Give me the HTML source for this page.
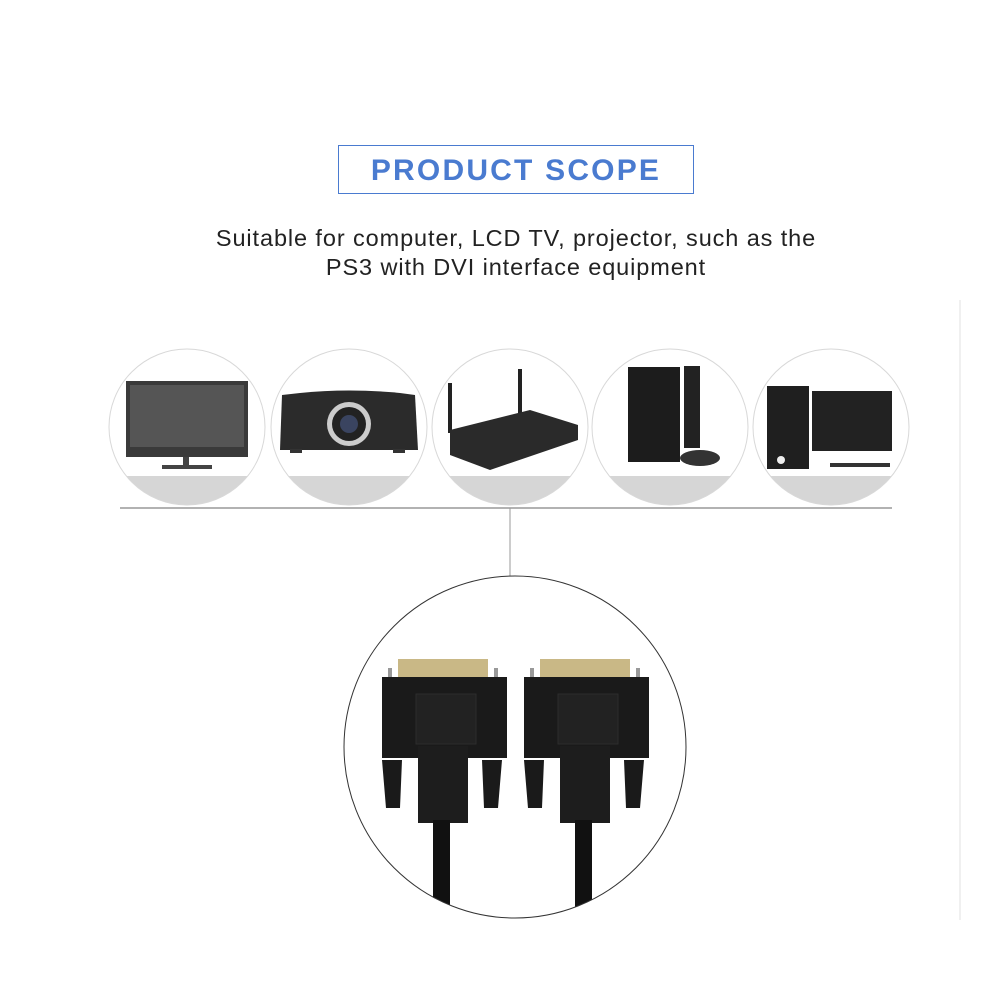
<!DOCTYPE html>
<html><head><style>
html,body{margin:0;padding:0;background:#fff;width:1000px;height:1000px;overflow:hidden}
.t{position:absolute;left:338px;top:145px;width:354px;height:47px;border:1.5px solid #4a7bd0}
.tt{position:absolute;left:338px;top:154px;width:356px;text-align:center;font:bold 30px/34px "Liberation Sans",sans-serif;color:#4a7bd0;letter-spacing:2.2px}
.d{position:absolute;left:16px;width:1000px;top:224px;text-align:center;font:23.5px/29px "Liberation Sans",sans-serif;color:#222;letter-spacing:0.9px}
</style></head><body>
<div class="t"></div>
<div class="tt">PRODUCT SCOPE</div>
<div class="d">Suitable for computer, LCD TV, projector, such as the<br>PS3 with DVI interface equipment</div>
<svg width="1000" height="1000" style="position:absolute;left:0;top:0">
<defs>
<clipPath id="c1"><circle cx="187" cy="427" r="78"/></clipPath>
<clipPath id="c2"><circle cx="349" cy="427" r="78"/></clipPath>
<clipPath id="c3"><circle cx="510" cy="427" r="78"/></clipPath>
<clipPath id="c4"><circle cx="670" cy="427" r="78"/></clipPath>
<clipPath id="c5"><circle cx="831" cy="427" r="78"/></clipPath>
<clipPath id="big"><circle cx="515" cy="747" r="171"/></clipPath>
</defs>
<line x1="960" y1="300" x2="960" y2="920" stroke="#f0f0f0" stroke-width="2"/>
<g>
<g clip-path="url(#c1)"><rect x="100" y="476" width="180" height="40" fill="#d6d6d6"/></g>
<g clip-path="url(#c2)"><rect x="260" y="476" width="180" height="40" fill="#d6d6d6"/></g>
<g clip-path="url(#c3)"><rect x="420" y="476" width="180" height="40" fill="#d6d6d6"/></g>
<g clip-path="url(#c4)"><rect x="580" y="476" width="180" height="40" fill="#d6d6d6"/></g>
<g clip-path="url(#c5)"><rect x="740" y="476" width="180" height="40" fill="#d6d6d6"/></g>
<g fill="none" stroke="#d8d8d8" stroke-width="1">
<circle cx="187" cy="427" r="78"/><circle cx="349" cy="427" r="78"/><circle cx="510" cy="427" r="78"/><circle cx="670" cy="427" r="78"/><circle cx="831" cy="427" r="78"/>
</g>
</g>
<rect x="126" y="381" width="122" height="76" fill="#3a3a3a"/>
<rect x="130" y="385" width="114" height="62" fill="#555"/>
<rect x="183" y="457" width="6" height="8" fill="#444"/>
<rect x="162" y="465" width="50" height="4" fill="#444"/>
<path d="M282 395 L300 393 Q349 388 400 393 L415 395 L418 450 L280 450 Z" fill="#2b2b2b"/>
<circle cx="349" cy="424" r="22" fill="#ccc"/><circle cx="349" cy="424" r="17" fill="#222"/><circle cx="349" cy="424" r="9" fill="#3a4460"/>
<rect x="290" y="449" width="12" height="4" fill="#333"/><rect x="393" y="449" width="12" height="4" fill="#333"/>
<rect x="448" y="383" width="4" height="50" fill="#222"/><rect x="518" y="369" width="4" height="55" fill="#222"/>
<path d="M450 430 L530 410 L578 425 L578 440 L490 470 L450 455 Z" fill="#2a2a2a"/>
<rect x="628" y="367" width="52" height="95" fill="#1c1c1c"/>
<rect x="684" y="366" width="16" height="82" fill="#222"/>
<ellipse cx="700" cy="458" rx="20" ry="8" fill="#333"/>
<rect x="767" y="386" width="42" height="83" fill="#1f1f1f"/>
<circle cx="781" cy="460" r="4" fill="#eee"/>
<rect x="812" y="391" width="80" height="60" fill="#222"/>
<rect x="830" y="463" width="60" height="4" fill="#333"/>
<line x1="120" y1="508" x2="892" y2="508" stroke="#999" stroke-width="1.5"/>
<line x1="510" y1="508" x2="510" y2="576" stroke="#999" stroke-width="1"/>
<circle cx="515" cy="747" r="171" fill="#fff"/>
<g clip-path="url(#big)">
<g id="con">
<rect x="398" y="659" width="90" height="19" fill="#c9b886"/>
<rect x="388" y="668" width="4" height="10" fill="#999"/><rect x="494" y="668" width="4" height="10" fill="#999"/>
<rect x="382" y="677" width="125" height="81" fill="#1a1a1a"/>
<rect x="416" y="694" width="60" height="50" fill="#222" stroke="#2c2c2c"/>
<rect x="418" y="746" width="50" height="77" fill="#1d1d1d"/>
<rect x="433" y="820" width="17" height="100" fill="#111"/>
<path d="M382 760 L402 760 L400 808 L386 808 Z" fill="#1a1a1a"/>
<path d="M482 760 L502 760 L498 808 L484 808 Z" fill="#1a1a1a"/>
</g>
<use href="#con" x="142"/>
</g>
<circle cx="515" cy="747" r="171" fill="none" stroke="#333" stroke-width="1"/>
</svg>
</body></html>
